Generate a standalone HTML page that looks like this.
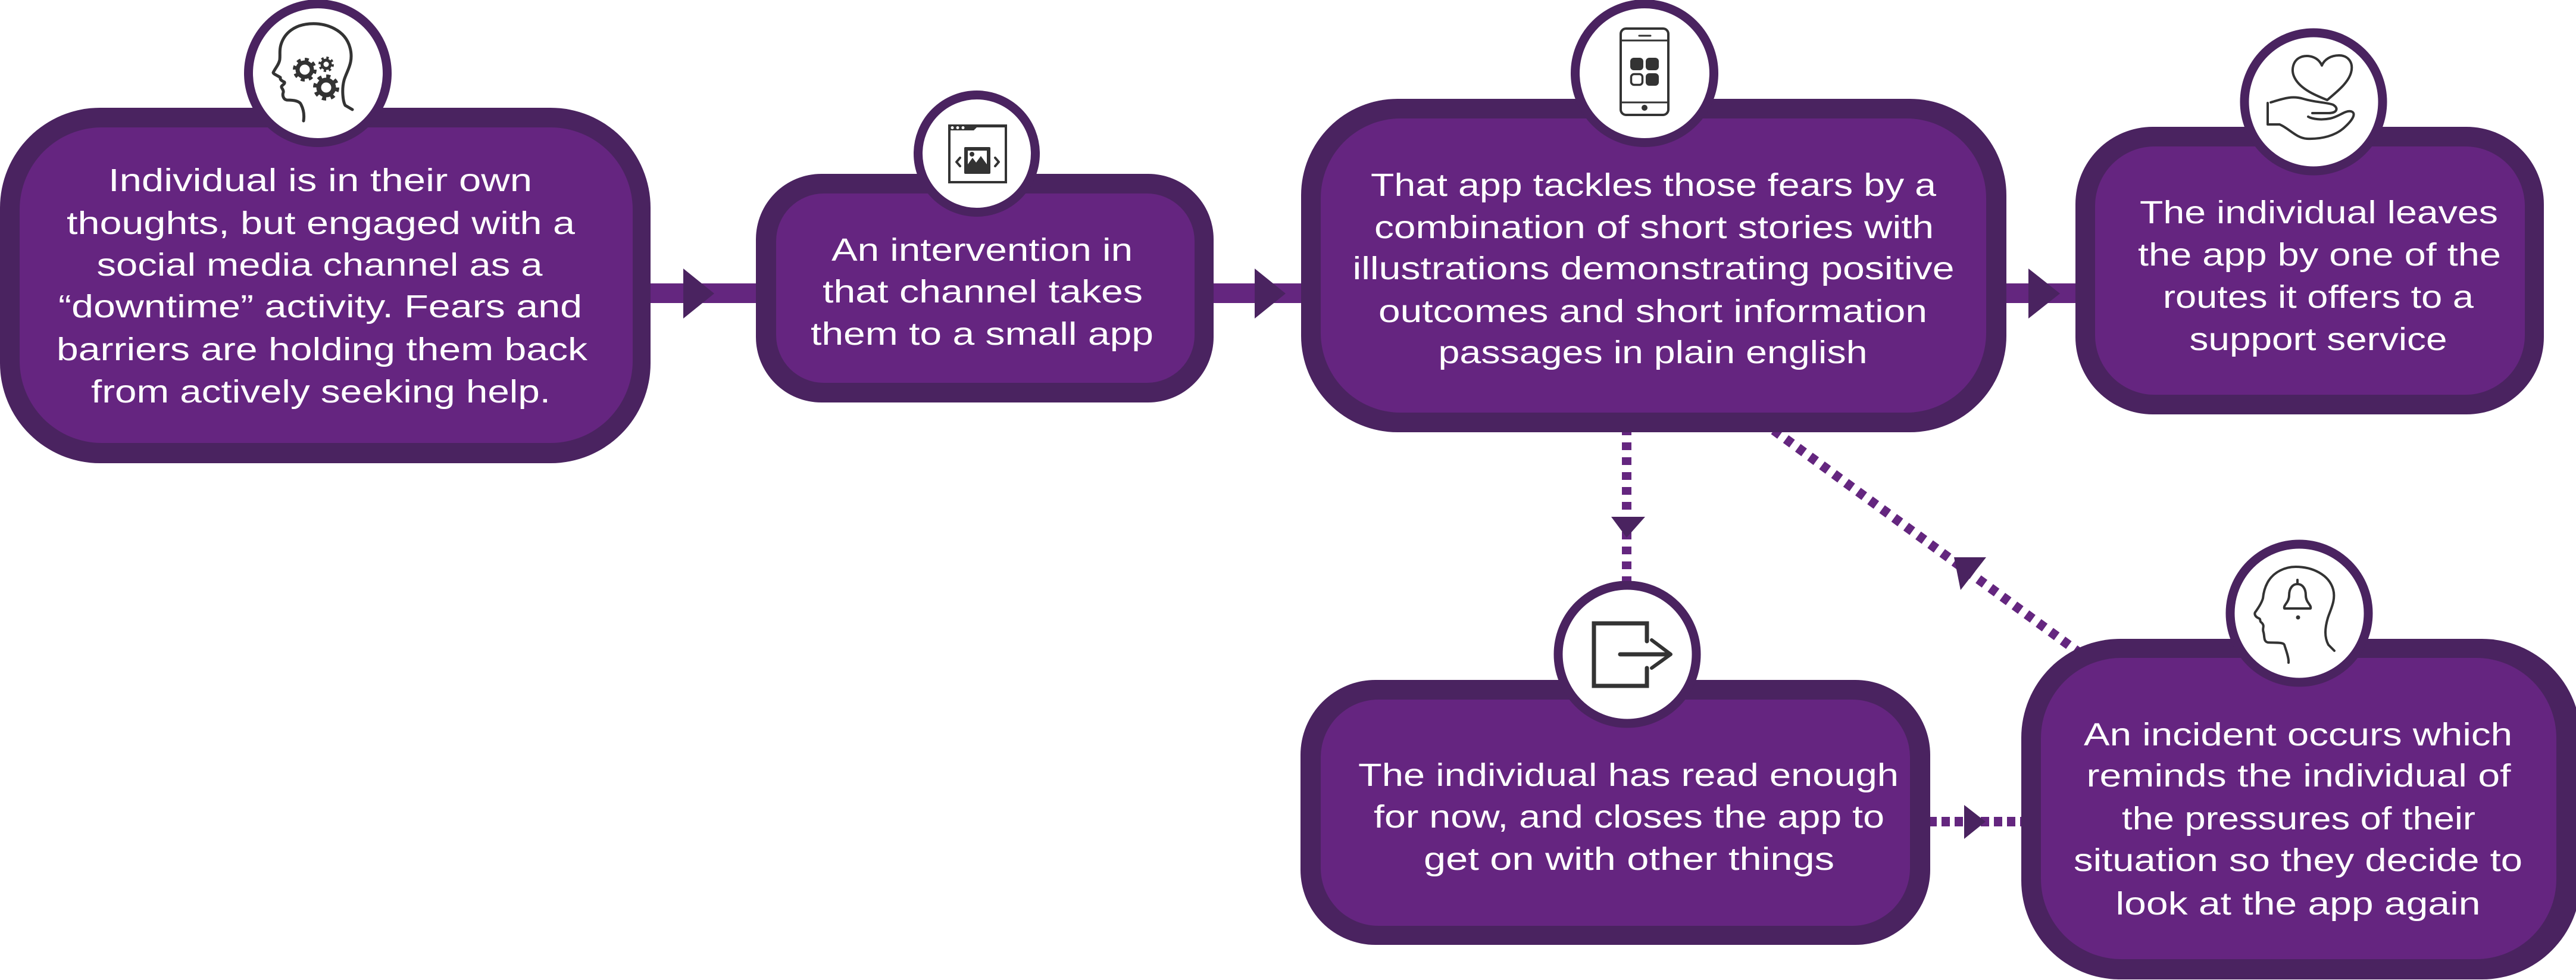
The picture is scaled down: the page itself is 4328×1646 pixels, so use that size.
<!DOCTYPE html>
<html>
<head>
<meta charset="utf-8">
<style>
html,body{margin:0;padding:0;background:#fff;}
svg{display:block;}
text{font-family:"Liberation Sans","DejaVu Sans",sans-serif;font-size:54px;fill:#ffffff;}
</style>
</head>
<body>
<svg width="4328" height="1646" viewBox="0 0 4328 1646" xmlns="http://www.w3.org/2000/svg">
<!-- solid connector line -->
<rect x="1080" y="476" width="2420" height="33" fill="#64267f"/>
<!-- dotted connectors -->
<line x1="2733" y1="718" x2="2733" y2="990" stroke="#64267f" stroke-width="16" stroke-dasharray="13 12"/>
<line x1="2960" y1="708" x2="3500" y2="1101" stroke="#64267f" stroke-width="16" stroke-dasharray="13 12"/>
<line x1="3240" y1="1380" x2="3400" y2="1380" stroke="#64267f" stroke-width="16" stroke-dasharray="14 8"/>

<!-- arrowheads -->
<polygon points="1148,451 1148,535 1200,493" fill="#4a2360"/>
<polygon points="2108,451 2108,535 2160,493" fill="#4a2360"/>
<polygon points="3408,451 3408,535 3461,493" fill="#4a2360"/>
<polygon points="2707,868 2764,868 2733,903" fill="#4a2360"/>
<polygon points="3283,936 3337,936 3294,991" fill="#4a2360"/>
<polygon points="3300,1352 3300,1409 3336,1380" fill="#4a2360"/>

<!-- Box 1 -->
<rect x="0" y="181" width="1093" height="597" rx="168" ry="168" fill="#4a2360"/>
<rect x="33" y="214" width="1030" height="530" rx="138" ry="138" fill="#652580"/>
<!-- Box 2 -->
<rect x="1270" y="292" width="769" height="384" rx="110" ry="110" fill="#4a2360"/>
<rect x="1304" y="325" width="703" height="318" rx="80" ry="80" fill="#652580"/>
<!-- Box 3 -->
<rect x="2186" y="166" width="1185" height="560" rx="162" ry="162" fill="#4a2360"/>
<rect x="2219" y="199" width="1118" height="494" rx="134" ry="134" fill="#652580"/>
<!-- Box 4 -->
<rect x="3487" y="213" width="787" height="483" rx="130" ry="130" fill="#4a2360"/>
<rect x="3520" y="246" width="722" height="417" rx="100" ry="100" fill="#652580"/>
<!-- Box 5 -->
<rect x="2185" y="1142" width="1058" height="445" rx="126" ry="126" fill="#4a2360"/>
<rect x="2219" y="1175" width="990" height="380" rx="97" ry="97" fill="#652580"/>
<!-- Box 6 -->
<rect x="3396" y="1073" width="940" height="572" rx="166" ry="166" fill="#4a2360"/>
<rect x="3429" y="1105" width="866" height="506" rx="135" ry="135" fill="#652580"/>

<!-- icon circles -->
<circle cx="534" cy="123" r="116.5" fill="#fff" stroke="#4a2360" stroke-width="15"/>
<circle cx="1641" cy="258" r="98.5" fill="#fff" stroke="#4a2360" stroke-width="15"/>
<circle cx="2763" cy="123" r="116.5" fill="#fff" stroke="#4a2360" stroke-width="15"/>
<circle cx="3887" cy="171" r="116" fill="#fff" stroke="#4a2360" stroke-width="15"/>
<circle cx="2734" cy="1099" r="116" fill="#fff" stroke="#4a2360" stroke-width="15"/>
<circle cx="3863" cy="1030" r="116" fill="#fff" stroke="#4a2360" stroke-width="15"/>

<!-- Icon 1: head with gears -->
<g fill="none" stroke="#333333" stroke-linecap="round" stroke-linejoin="round">
<path stroke-width="5" d="M510,203 C512,190 508,180 506,176 C504,170 495,168 482,168 C476,167 474,160 476,155 C477,150 472,148 473,145 C475,142 479,141 478,138 C474,136 470,134 471,130 C466,127 459,124 459,122 C462,115 469,108 470,100 C471,90 469,85 472,75 C478,55 495,42 520,40 C548,38 580,50 588,80 C595,105 582,120 578,135 C574,150 576,170 580,177 L592,184"/>
<circle cx="512" cy="117" r="12" stroke-width="7"/>
<circle cx="512" cy="117" r="17" stroke-width="6" stroke-linecap="butt" stroke-dasharray="6.5 6.85"/>
<circle cx="548" cy="108" r="7" stroke-width="5"/>
<circle cx="548" cy="108" r="11" stroke-width="4" stroke-linecap="butt" stroke-dasharray="4 4.64"/>
<circle cx="548" cy="147" r="12.5" stroke-width="8"/>
<circle cx="548" cy="147" r="19" stroke-width="6" stroke-linecap="butt" stroke-dasharray="7 7.92"/>
</g>

<!-- Icon 2: browser window -->
<g>
<rect x="1595" y="211" width="95" height="95" fill="none" stroke="#333" stroke-width="4"/>
<polygon points="1593,209 1692,209 1692,214 1641,214 1636,219 1593,219" fill="#333"/>
<circle cx="1600" cy="214.5" r="2.5" fill="#fff"/>
<circle cx="1609" cy="214.5" r="2.5" fill="#fff"/>
<circle cx="1618" cy="214.5" r="2.5" fill="#fff"/>
<rect x="1620" y="247" width="44" height="45" rx="2" fill="#333"/>
<rect x="1626" y="253" width="32" height="29" fill="#fff"/>
<circle cx="1633" cy="259" r="4" fill="#333"/>
<polygon points="1626,282 1626,276 1634,265 1640,273 1648,262 1658,276 1658,282" fill="#333"/>
<polyline points="1613,265 1607,272 1613,279" fill="none" stroke="#333" stroke-width="4" stroke-linecap="round" stroke-linejoin="round"/>
<polyline points="1672,265 1678,272 1672,279" fill="none" stroke="#333" stroke-width="4" stroke-linecap="round" stroke-linejoin="round"/>
</g>

<!-- Icon 3: phone -->
<g>
<rect x="2723" y="48" width="80" height="145" rx="9" fill="none" stroke="#333" stroke-width="4"/>
<line x1="2723" y1="68" x2="2803" y2="68" stroke="#333" stroke-width="3"/>
<line x1="2723" y1="172" x2="2803" y2="172" stroke="#333" stroke-width="3"/>
<line x1="2754" y1="60" x2="2773" y2="60" stroke="#333" stroke-width="3" stroke-linecap="round"/>
<circle cx="2763" cy="181" r="5" fill="#333"/>
<rect x="2739" y="97" width="22" height="21" rx="6" fill="#333"/>
<rect x="2765" y="97" width="22" height="21" rx="6" fill="#333"/>
<rect x="2740.5" y="124.5" width="19" height="18" rx="5" fill="none" stroke="#333" stroke-width="3.5"/>
<rect x="2765" y="123" width="22" height="21" rx="6" fill="#333"/>
</g>

<!-- Icon 4: hand with heart -->
<g fill="none" stroke="#333" stroke-width="4" stroke-linecap="round" stroke-linejoin="round">
<path d="M3901,110 C3895,96 3880,92 3868,95 C3852,100 3848,118 3856,132 C3866,150 3890,160 3910,168 C3925,155 3945,140 3950,122 C3955,104 3944,93 3930,93 C3916,93 3905,100 3901,110 Z"/>
<path d="M3810,173 L3810,209 L3830,209 C3845,215 3858,232 3876,233 C3900,234 3925,228 3940,213 C3952,202 3960,190 3950,187 C3940,185 3930,196 3915,199 C3900,202 3885,200 3878,196"/>
<path d="M3815,172 C3835,166 3850,160 3870,166 C3890,172 3910,172 3920,176 C3930,182 3926,190 3912,190 L3885,190"/>
</g>

<!-- Icon 5: exit -->
<g fill="none" stroke="#333" stroke-width="7">
<polyline points="2767,1077 2767,1047 2678,1047 2678,1152 2767,1152 2767,1122" stroke-linejoin="miter" stroke-linecap="round"/>
<line x1="2722" y1="1099" x2="2806" y2="1099" stroke-linecap="round"/>
<polyline points="2775,1075 2807,1099 2775,1122" stroke-width="6" stroke-linecap="round" stroke-linejoin="round"/>
</g>

<!-- Icon 6: head with bell -->
<g fill="none" stroke="#333" stroke-width="4" stroke-linecap="round" stroke-linejoin="round">
<path d="M3845,1113 C3846,1105 3840,1090 3838,1083 C3836,1078 3820,1080 3810,1079 C3803,1077 3805,1070 3803,1062 C3800,1055 3806,1052 3800,1046 C3795,1043 3800,1040 3794,1038 C3788,1035 3787,1030 3790,1027 C3795,1020 3800,1012 3802,1005 C3803,995 3806,985 3810,978 C3820,960 3840,952 3857,952 C3885,952 3913,965 3920,990 C3925,1008 3915,1025 3911,1038 C3906,1055 3905,1070 3912,1083 L3922,1093"/>
<path d="M3860,974 L3860,981 M3838,1022 C3836,1016 3846,1012 3846,1000 C3846,988 3852,981 3860,981 C3868,981 3874,988 3874,1000 C3874,1012 3884,1016 3882,1022 Z"/>
</g>
<circle cx="3861" cy="1037" r="3.5" fill="#333"/>

<!-- Box 1 text -->
<text x="538" y="321" text-anchor="middle" textLength="712" lengthAdjust="spacingAndGlyphs">Individual is in their own</text>
<text x="539" y="393" text-anchor="middle" textLength="854" lengthAdjust="spacingAndGlyphs">thoughts, but engaged with a</text>
<text x="537" y="463" text-anchor="middle" textLength="749" lengthAdjust="spacingAndGlyphs">social media channel as a</text>
<text x="538" y="533" text-anchor="middle" textLength="880" lengthAdjust="spacingAndGlyphs">“downtime” activity. Fears and</text>
<text x="541" y="605" text-anchor="middle" textLength="892" lengthAdjust="spacingAndGlyphs">barriers are holding them back</text>
<text x="539" y="676" text-anchor="middle" textLength="772" lengthAdjust="spacingAndGlyphs">from actively seeking help.</text>

<!-- Box 2 text -->
<text x="1650" y="438" text-anchor="middle" textLength="506" lengthAdjust="spacingAndGlyphs">An intervention in</text>
<text x="1651" y="508" text-anchor="middle" textLength="538" lengthAdjust="spacingAndGlyphs">that channel takes</text>
<text x="1650" y="579" text-anchor="middle" textLength="576" lengthAdjust="spacingAndGlyphs">them to a small app</text>

<!-- Box 3 text -->
<text x="2778" y="329" text-anchor="middle" textLength="950" lengthAdjust="spacingAndGlyphs">That app tackles those fears by a</text>
<text x="2779" y="400" text-anchor="middle" textLength="940" lengthAdjust="spacingAndGlyphs">combination of short stories with</text>
<text x="2778" y="469" text-anchor="middle" textLength="1011" lengthAdjust="spacingAndGlyphs">illustrations demonstrating positive</text>
<text x="2777" y="541" text-anchor="middle" textLength="922" lengthAdjust="spacingAndGlyphs">outcomes and short information</text>
<text x="2777" y="610" text-anchor="middle" textLength="721" lengthAdjust="spacingAndGlyphs">passages in plain english</text>

<!-- Box 4 text -->
<text x="3896" y="375" text-anchor="middle" textLength="602" lengthAdjust="spacingAndGlyphs">The individual leaves</text>
<text x="3897" y="446" text-anchor="middle" textLength="610" lengthAdjust="spacingAndGlyphs">the app by one of the</text>
<text x="3895" y="517" text-anchor="middle" textLength="522" lengthAdjust="spacingAndGlyphs">routes it offers to a</text>
<text x="3895" y="588" text-anchor="middle" textLength="433" lengthAdjust="spacingAndGlyphs">support service</text>

<!-- Box 5 text -->
<text x="2736" y="1320" text-anchor="middle" textLength="908" lengthAdjust="spacingAndGlyphs">The individual has read enough</text>
<text x="2737" y="1390" text-anchor="middle" textLength="858" lengthAdjust="spacingAndGlyphs">for now, and closes the app to</text>
<text x="2737" y="1461" text-anchor="middle" textLength="690" lengthAdjust="spacingAndGlyphs">get on with other things</text>

<!-- Box 6 text -->
<text x="3861" y="1252" text-anchor="middle" textLength="720" lengthAdjust="spacingAndGlyphs">An incident occurs which</text>
<text x="3862" y="1321" text-anchor="middle" textLength="713" lengthAdjust="spacingAndGlyphs">reminds the individual of</text>
<text x="3862" y="1393" text-anchor="middle" textLength="594" lengthAdjust="spacingAndGlyphs">the pressures of their</text>
<text x="3861" y="1463" text-anchor="middle" textLength="754" lengthAdjust="spacingAndGlyphs">situation so they decide to</text>
<text x="3861" y="1536" text-anchor="middle" textLength="613" lengthAdjust="spacingAndGlyphs">look at the app again</text>
</svg>
</body>
</html>
